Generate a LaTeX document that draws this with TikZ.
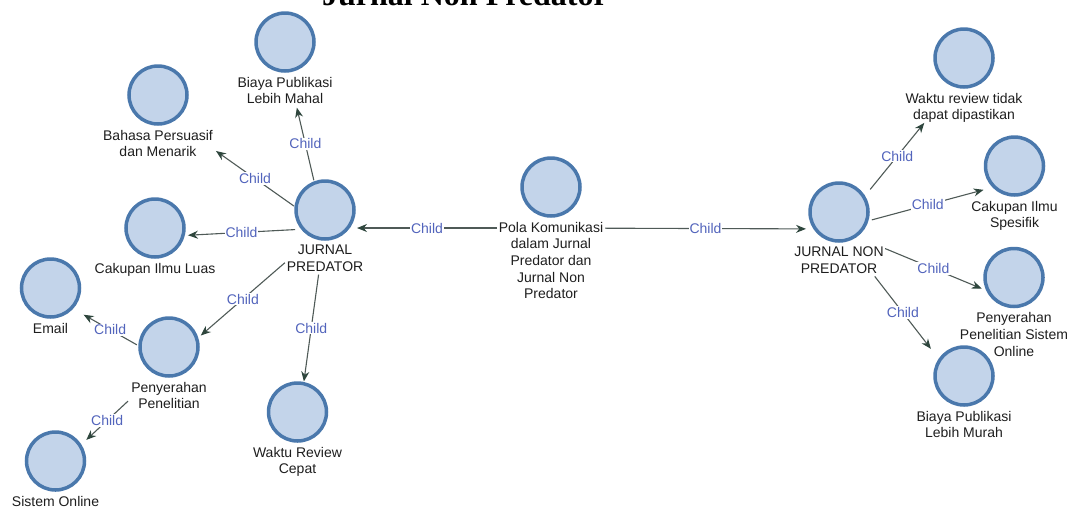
\documentclass[tikz,border=0pt]{standalone}
\usepackage{fontspec}
\setmainfont{Liberation Sans}
\newfontfamily\titlefont{Liberation Serif}
\usetikzlibrary{calc,arrows.meta}

\definecolor{ringcol}{HTML}{4A78AC}
\definecolor{fillcol}{HTML}{C3D4EA}
\definecolor{edgecol}{HTML}{4F5A57}
\definecolor{tipcol}{HTML}{2E463D}
\definecolor{childcol}{HTML}{5264BC}
\definecolor{labelcol}{HTML}{1E1E1E}

\tikzset{
  vdot/.style={circle, draw=ringcol, fill=fillcol, line width=3.5pt,
    minimum size=58pt, inner sep=0pt},
  vlbl/.style={anchor=north, align=center, inner sep=0pt, yshift=-4pt,
    text=labelcol, font=\fontsize{14}{16.7}\selectfont},
  edge/.style={draw=edgecol, line width=1.1pt,
    -{Stealth[length=10pt,width=8pt,color=tipcol]}},
  childlbl/.style={fill=white, inner sep=1pt, text=childcol,
    font=\fontsize{14}{16}\selectfont},
}

% edge from vertex #1 to vertex #2, trimmed by #3 at the start and #4 at the end
\newcommand\childedge[4]{%
  \draw[edge] ($(#1)!#3pt!(#2)$) -- ($(#2)!#4pt!(#1)$)
    node[childlbl, midway] {Child};}

\begin{document}
\begin{tikzpicture}[x=1pt, y=-1pt]
\useasboundingbox (0,0) rectangle (1081,507);

% heading, partly above the top edge
\node[anchor=base, font=\titlefont\bfseries\fontsize{32}{36}\selectfont,
  inner sep=0pt] (title) at (465,5) {Jurnal Non Predator};

% vertices: circle, caption, and the centre point of the pair
\node[vdot] (pola-c) at (551,187) {};
\node[vlbl] (pola-l) at (pola-c.south) {Pola Komunikasi\\dalam Jurnal\\Predator dan\\Jurnal Non\\Predator};
\coordinate (pola) at (551,228);

\node[vdot] (jp-c) at (325,210) {};
\node[vlbl] (jp-l) at (jp-c.south) {JURNAL\\PREDATOR};
\coordinate (jp) at (325,228);

\node[vdot] (jnp-c) at (839,212) {};
\node[vlbl] (jnp-l) at (jnp-c.south) {JURNAL NON\\PREDATOR};
\coordinate (jnp) at (838,229);

\node[vdot] (biayaM-c) at (285,42) {};
\node[vlbl] (biayaM-l) at (biayaM-c.south) {Biaya Publikasi\\Lebih Mahal};
\coordinate (biayaM) at (285,57);

\node[vdot] (bahasa-c) at (158,95) {};
\node[vlbl] (bahasa-l) at (bahasa-c.south) {Bahasa Persuasif\\dan Menarik};
\coordinate (bahasa) at (158,110);

\node[vdot] (cakL-c) at (155,228) {};
\node[vlbl] (cakL-l) at (cakL-c.south) {Cakupan Ilmu Luas};
\coordinate (cakL) at (155,237);

\node[vdot] (email-c) at (50.5,288) {};
\node[vlbl] (email-l) at (email-c.south) {Email};
\coordinate (email) at (50.5,296);

\node[vdot] (peny-c) at (169,347) {};
\node[vlbl] (peny-l) at (peny-c.south) {Penyerahan\\Penelitian};
\coordinate (peny) at (169,363);

\node[vdot] (sist-c) at (55.5,461) {};
\node[vlbl] (sist-l) at (sist-c.south) {Sistem Online};
\coordinate (sist) at (55.5,468.5);

\node[vdot] (waktuC-c) at (297.5,412) {};
\node[vlbl] (waktuC-l) at (waktuC-c.south) {Waktu Review\\Cepat};
\coordinate (waktuC) at (297.5,428);

\node[vdot] (waktuT-c) at (964,58) {};
\node[vlbl] (waktuT-l) at (waktuT-c.south) {Waktu review tidak\\dapat dipastikan};
\coordinate (waktuT) at (964,74);

\node[vdot] (cakS-c) at (1014.5,166) {};
\node[vlbl] (cakS-l) at (cakS-c.south) {Cakupan Ilmu\\Spesifik};
\coordinate (cakS) at (1014.5,181.5);

\node[vdot] (penyS-c) at (1014,277.5) {};
\node[vlbl] (penyS-l) at (penyS-c.south) {Penyerahan\\Penelitian Sistem\\Online};
\coordinate (penyS) at (1014,302);

\node[vdot] (biayaMu-c) at (964,376) {};
\node[vlbl] (biayaMu-l) at (biayaMu-c.south) {Biaya Publikasi\\Lebih Murah};
\coordinate (biayaMu) at (964,391.5);

% parent -> child links
\childedge{pola}{jp}{54}{32}
\childedge{pola}{jnp}{54}{32}

\childedge{jp}{biayaM}{49}{52}
\childedge{jp}{bahasa}{38}{71}
\childedge{jp}{cakL}{30}{33}
\childedge{jp}{peny}{53}{42}
\childedge{jp}{waktuC}{47}{47}

\childedge{peny}{email}{37}{38}
\childedge{peny}{sist}{56}{42}

\childedge{jnp}{waktuT}{51}{63}
\childedge{jnp}{cakS}{35}{32}
\childedge{jnp}{penyS}{51}{35}
\childedge{jnp}{biayaMu}{60}{54}
\end{tikzpicture}
\end{document}
